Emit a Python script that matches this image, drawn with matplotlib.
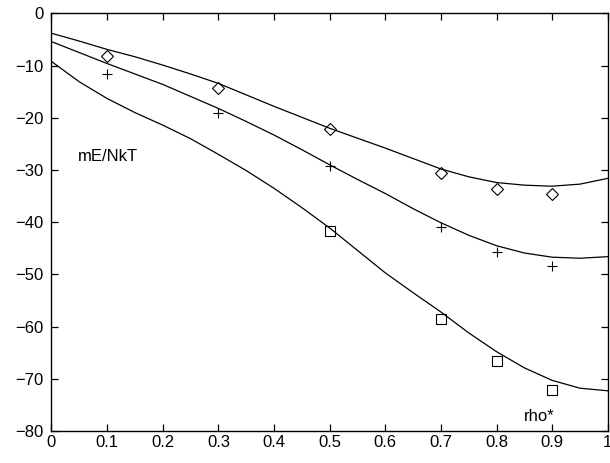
import matplotlib
matplotlib.use("Agg")
import matplotlib.pyplot as plt

plt.rcParams['font.family'] = ['Liberation Sans', 'DejaVu Sans']

# simulation points
rho_pts = [0.1, 0.3, 0.5, 0.7, 0.8, 0.9]
e_diamond = [-8.2, -14.2, -22.2, -30.5, -33.6, -34.5]
e_plus = [-11.7, -19.1, -29.2, -41.0, -45.7, -48.4]
rho_sq = [0.5, 0.7, 0.8, 0.9]
e_square = [-41.7, -58.6, -66.6, -72.2]

# theory curves, sampled every 0.05
rho_line = [0.0, 0.05, 0.1, 0.15, 0.2, 0.25, 0.3, 0.35, 0.4, 0.45, 0.5,
            0.55, 0.6, 0.65, 0.7, 0.75, 0.8, 0.85, 0.9, 0.95, 1.0]
e_top = [-3.8, -5.3, -6.9, -8.3, -9.9, -11.6, -13.4, -15.6, -17.8, -19.9, -22.0,
         -23.9, -25.8, -27.8, -29.8, -31.3, -32.4, -32.9, -33.1, -32.7, -31.6]
e_mid = [-5.4, -7.5, -9.6, -11.6, -13.6, -15.9, -18.2, -20.7, -23.3, -26.1, -29.0,
         -31.8, -34.5, -37.4, -40.1, -42.5, -44.5, -45.9, -46.7, -46.9, -46.6]
e_bot = [-9.2, -13.1, -16.3, -19.0, -21.4, -24.0, -27.0, -30.1, -33.5, -37.2, -41.1,
         -45.4, -49.7, -53.5, -57.2, -61.2, -64.8, -67.9, -70.3, -71.8, -72.3]

xticks = [0, 0.1, 0.2, 0.3, 0.4, 0.5, 0.6, 0.7, 0.8, 0.9, 1]
xtick_labels = ['0', '0.1', '0.2', '0.3', '0.4', '0.5', '0.6', '0.7', '0.8', '0.9', '1']
yticks = [0, -10, -20, -30, -40, -50, -60, -70, -80]

fig = plt.figure(figsize=(6.1, 4.63), dpi=100)
ax = fig.add_axes([0.0844, 0.0691, 0.9120, 0.9019])

for e in (e_top, e_mid, e_bot):
    ax.plot(rho_line, e, color='black', lw=0.9)

ax.plot(rho_pts, e_diamond, ls='none', marker='D', ms=6, mfc='none', mec='black', mew=0.8)
ax.plot(rho_pts, e_plus, ls='none', marker='+', ms=7, color='black', mew=0.8)
ax.plot(rho_sq, e_square, ls='none', marker='s', ms=6.8, mfc='none', mec='black', mew=0.8)

ax.set_xlim(0, 1)
ax.set_ylim(-80, 0)
ax.set_xticks(xticks)
ax.set_xticklabels(xtick_labels)
ax.set_yticks(yticks)
ax.tick_params(direction='in', length=5, width=0.9, top=True, right=True,
               labelsize=12, pad=6)
ax.xaxis.set_tick_params(pad=3)
for s in ax.spines.values():
    s.set_linewidth(1.0)

ax.text(0.048, -27.5, 'mE/NkT', fontsize=12, va='center', ha='left')
ax.text(0.85, -77.3, 'rho*', fontsize=12, va='center', ha='left')

fig.savefig('out.png', dpi=100)
